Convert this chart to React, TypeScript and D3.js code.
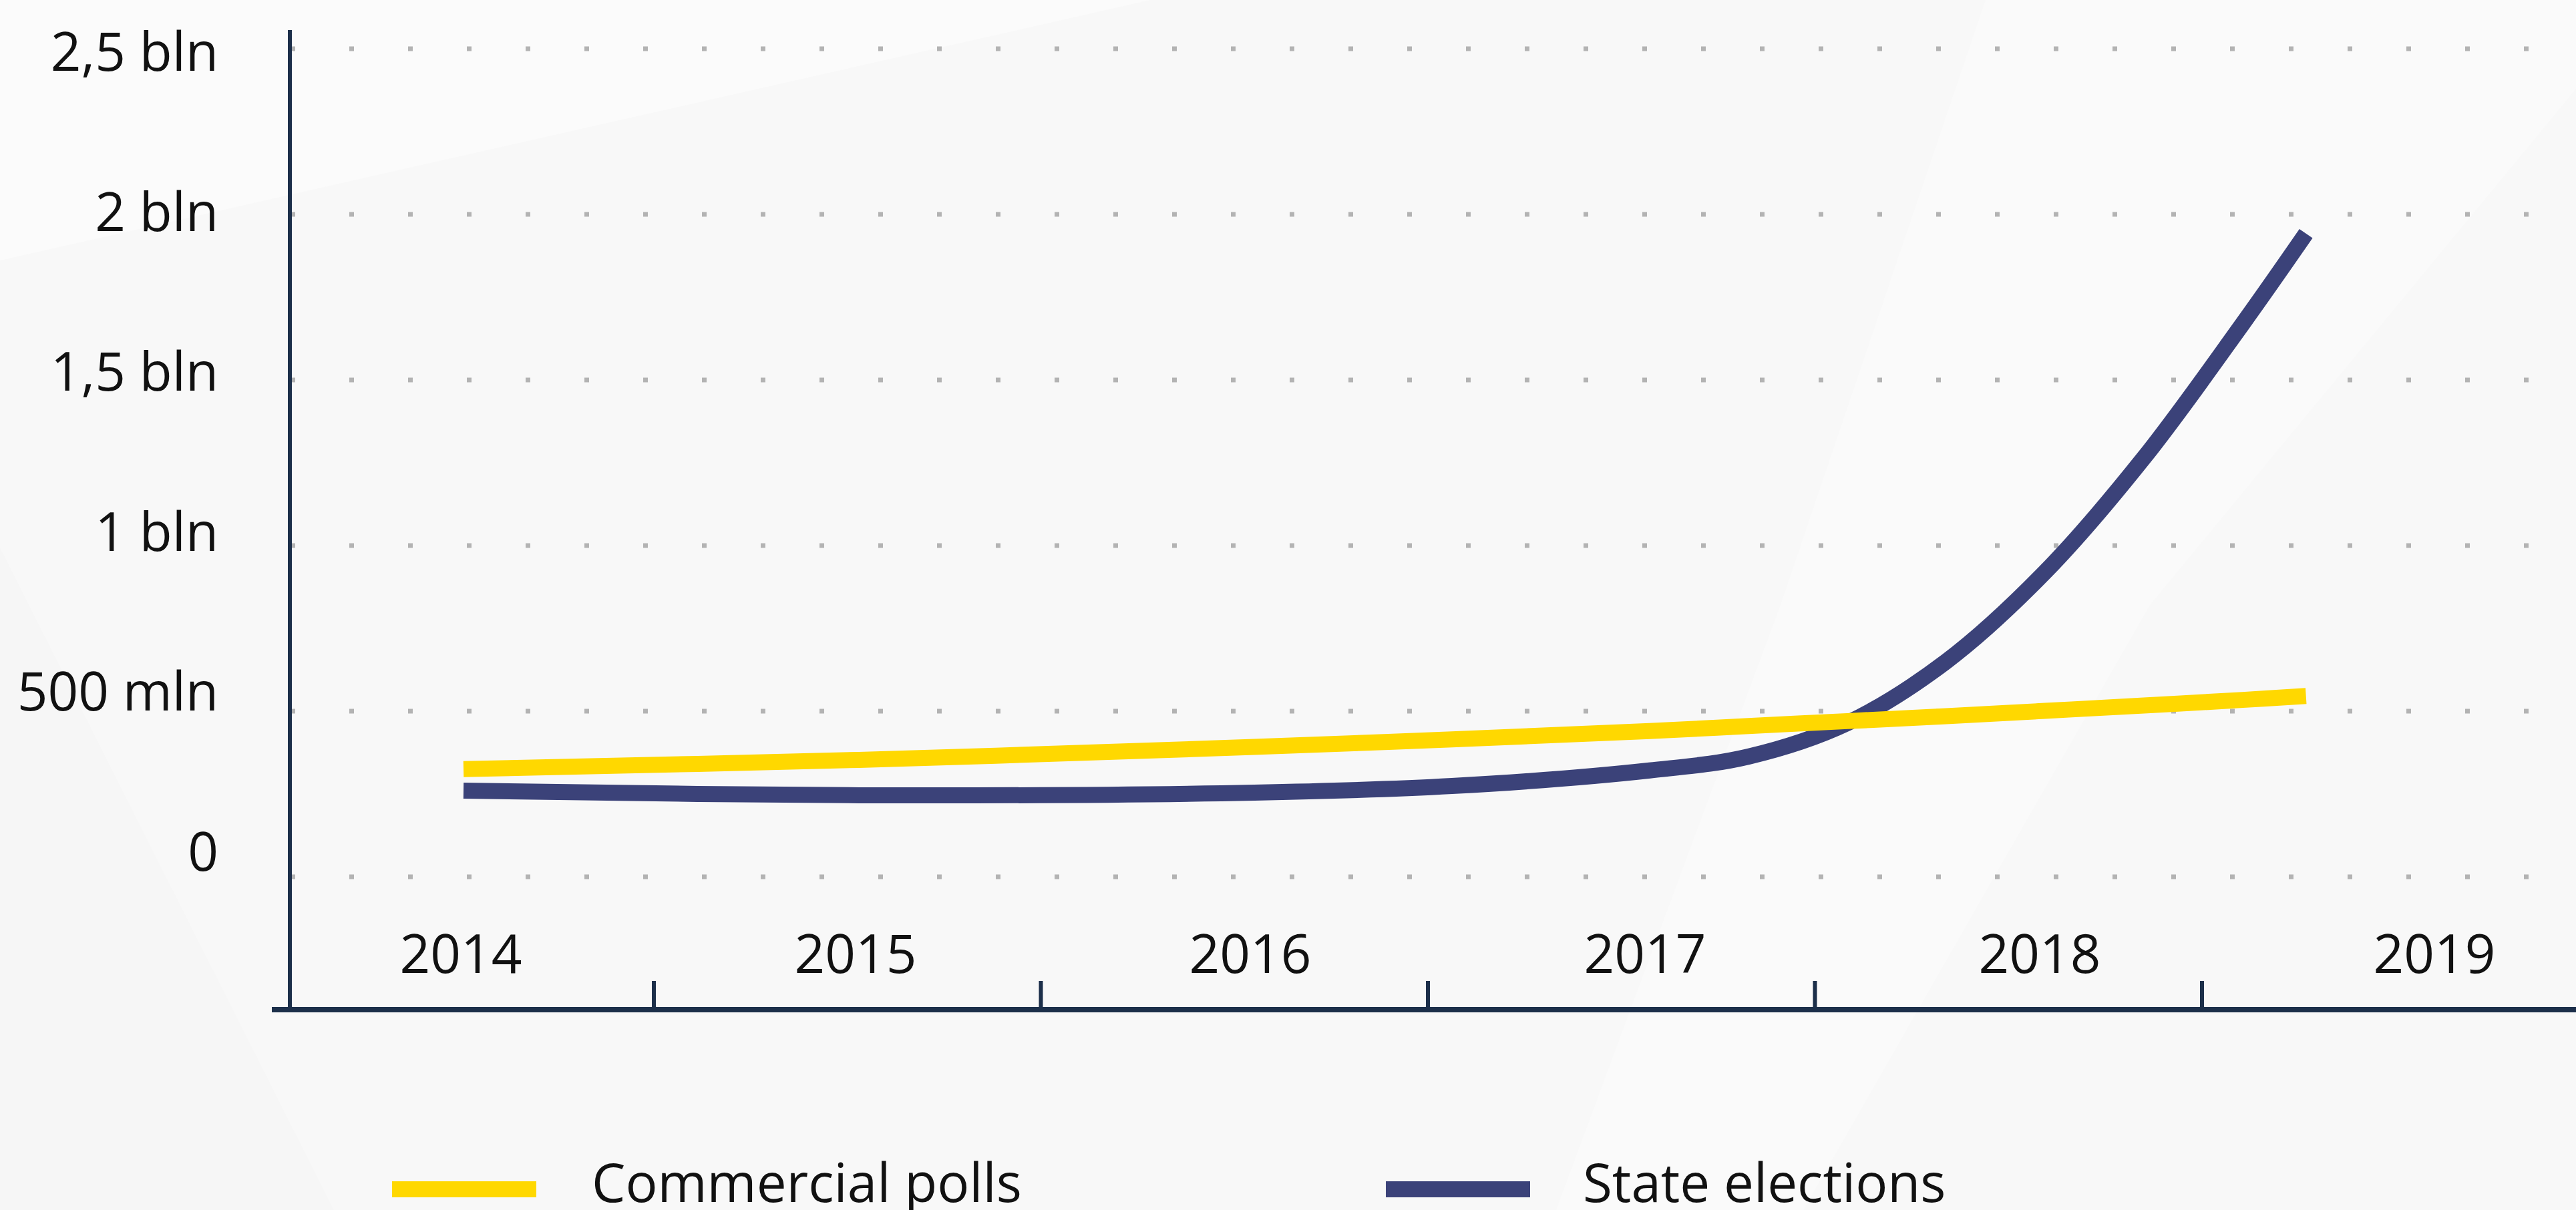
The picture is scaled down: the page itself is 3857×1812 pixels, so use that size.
import React from "react";
import * as d3 from "d3";

// values in millions, x as fractional years
const years = [2014, 2015, 2016, 2017, 2018, 2019];
const sampleX = [2014, 2015, 2016, 2016.5, 2017, 2017.25, 2017.5, 2017.75, 2018, 2018.25, 2018.5, 2018.66];
const commercialPolls = [325, 353, 392, 415, 440, 455, 470, 485, 501, 517, 534, 546];
const stateElections = [260, 246, 254, 274, 321, 363, 464, 650, 920, 1265, 1670, 1942];
const yTicks = [0, 500, 1000, 1500, 2000, 2500];
const yTickLabels = ["0", "500 mln", "1 bln", "1,5 bln", "2 bln", "2,5 bln"];
const seriesNames = ["Commercial polls", "State elections"];

const width = 3857;
const height = 1812;
const yellow = "#ffd800";
const navy = "#3b4279";
const axisColor = "#1c2f4a";
const font = "'Open Sans', 'Noto Sans', sans-serif";

const App = () => {
  const y = d3.scaleLinear().domain([0, 2500]).range([1313, 73]);
  // labels sit on their own slightly tighter scale in the original
  const yLabel = d3.scaleLinear().domain([0, 2500]).range([1304, 106]);
  const xLabel = d3.scalePoint<number>().domain(years).range([690, 3645]);
  const xData = d3.scaleLinear().domain([2014, 2019]).range([694, 3654]);
  const band = d3.scaleBand<number>().domain(years).range([399.5, 3876.5]);

  const line = d3
    .line<number>()
    .x((_, i) => xData(sampleX[i]))
    .y((d) => y(d))
    .curve(d3.curveCatmullRom.alpha(0.5));

  const axisLeft = 434;
  const axisBottom = 1512;

  return (
    <svg
      width={width}
      height={height}
      style={{ position: "absolute", left: 0, top: 0, background: "#f8f8f8" }}
      fontFamily={font}
    >
      {/* faint background shapes */}
      <polygon points="0,0 1722,0 0,390" fill="#fbfbfb" />
      <polygon points="2973,0 3857,0 3857,133 3219,906 2700,1812 2330,1812 2666,906" fill="#fafafa" />
      <polygon points="0,820 500,1812 0,1812" fill="#f6f6f6" />

      {/* dotted gridlines */}
      {yTicks.map((t) => (
        <line
          key={"g" + t}
          x1={axisLeft + 1}
          x2={width}
          y1={y(t)}
          y2={y(t)}
          stroke="#b3b3b3"
          strokeWidth={7}
          strokeDasharray="7 81"
        />
      ))}

      {/* y labels */}
      {yTicks.map((t, i) => (
        <text key={"yl" + t} x={327} y={yLabel(t)} textAnchor="end" fontSize={80} fill="#111">
          {yTickLabels[i]}
        </text>
      ))}

      {/* axes */}
      <line x1={axisLeft} x2={axisLeft} y1={45} y2={axisBottom} stroke={axisColor} strokeWidth={6} />
      <line x1={407} x2={width} y1={axisBottom} y2={axisBottom} stroke={axisColor} strokeWidth={8} />
      {years.slice(1).map((yr) => (
        <line
          key={"t" + yr}
          x1={band(yr)}
          x2={band(yr)}
          y1={1469}
          y2={axisBottom}
          stroke={axisColor}
          strokeWidth={6}
        />
      ))}

      {/* x labels */}
      {years.map((yr) => (
        <text key={"xl" + yr} x={xLabel(yr)} y={1457} textAnchor="middle" fontSize={80} fill="#111">
          {yr}
        </text>
      ))}

      {/* series */}
      <path d={line(stateElections) || ""} fill="none" stroke={navy} strokeWidth={24} />
      <path d={line(commercialPolls) || ""} fill="none" stroke={yellow} strokeWidth={24} />

      {/* legend */}
      <rect x={587} y={1769} width={216} height={24} fill={yellow} />
      <text x={886} y={1800} fontSize={80} fill="#111">
        {seriesNames[0]}
      </text>
      <rect x={2075} y={1769} width={216} height={24} fill={navy} />
      <text x={2370} y={1800} fontSize={80} fill="#111">
        {seriesNames[1]}
      </text>
    </svg>
  );
};

export default App;
